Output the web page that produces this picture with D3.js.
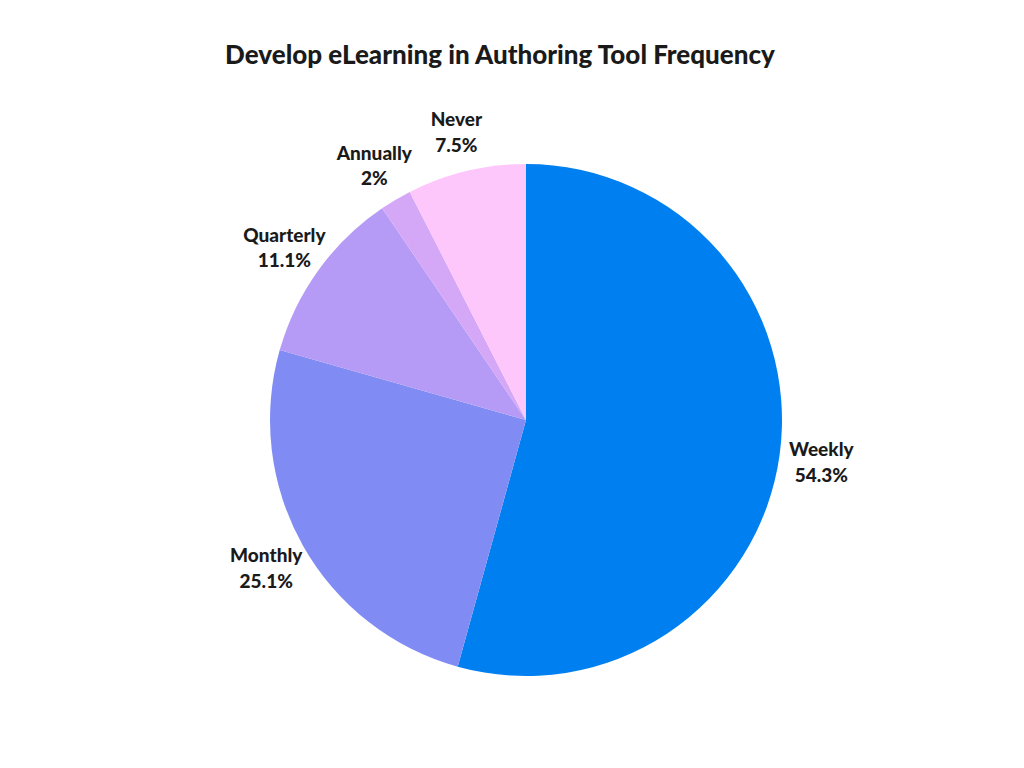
<!DOCTYPE html>
<html><head><meta charset="utf-8">
<script src="https://cdn.jsdelivr.net/npm/d3@7"></script>
<style>body{margin:0;background:#fff}</style></head>
<body><svg id="chart" width="1024" height="768"></svg>
<script>
const categories = ["Weekly", "Monthly", "Quarterly", "Annually", "Never"];
const values = [54.3, 25.1, 11.1, 2, 7.5];
const colors = ["#0080f0", "#808cf3", "#b59bf6", "#d5a8f7", "#fdc7fb"];

const svg = d3.select("#chart");
const cx = 526, cy = 420, radius = 256;
const font = "Lato, 'DejaVu Sans', sans-serif";

svg.append("text")
  .attr("x", 500).attr("y", 64)
  .attr("text-anchor", "middle")
  .attr("font-family", font).attr("font-weight", 900)
  .attr("font-size", 26).attr("fill", "#1a1a1a")
  .text("Develop eLearning in Authoring Tool Frequency");

const data = categories.map((c, i) => ({ name: c, value: values[i], color: colors[i] }));
const pie = d3.pie().value(d => d.value).sort(null);
const arc = d3.arc().innerRadius(0).outerRadius(radius);
const labelArc = d3.arc().innerRadius(298).outerRadius(298);

const g = svg.append("g").attr("transform", `translate(${cx},${cy})`);
const arcs = pie(data);

g.selectAll("path").data(arcs).join("path")
  .attr("d", arc).attr("fill", d => d.data.color);

const labels = g.selectAll("text.lbl").data(arcs).join("text")
  .attr("class", "lbl")
  .attr("transform", d => `translate(${labelArc.centroid(d)})`)
  .attr("text-anchor", "middle")
  .attr("font-family", font).attr("font-weight", 900)
  .attr("font-size", 19).attr("fill", "#1a1a1a");
labels.append("tspan").attr("x", 0).attr("dy", "-0.2em").text(d => d.data.name);
labels.append("tspan").attr("x", 0).attr("dy", "1.35em").text(d => d.data.value + "%");
</script></body></html>
